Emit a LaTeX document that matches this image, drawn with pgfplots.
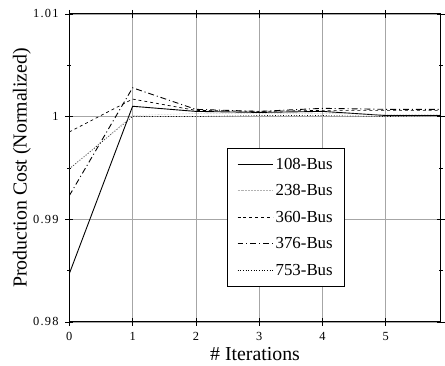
\documentclass[border=0pt]{standalone}
\usepackage{fontspec}
\setmainfont{Liberation Serif}
\newfontfamily\tickfont[LetterSpace=10]{Liberation Serif}
\newcommand\TL[1]{\hbox{\tickfont #1}}
\usepackage{pgfplots}
\pgfplotsset{compat=1.18}
\begin{document}
\begin{tikzpicture}
\begin{axis}[
  scale only axis,
  width=375pt, height=311pt,
  xmin=0, xmax=5.87, ymin=0.98, ymax=1.01,
  xtick={0,1,2,3,4,5},
  xticklabels={\TL{0},\TL{1},\TL{2},\TL{3},\TL{4},\TL{5}},
  ytick={0.98,0.99,1,1.01},
  yticklabels={\TL{0.98},\TL{0.99},\TL{1},\TL{1.01}},
  minor y tick num=1,
  /pgf/number format/assume math mode=true,
  xticklabel style={scale=1.25, yshift=-2pt},
  yticklabel style={scale=1.25, xshift=-2pt},
  xlabel={\# Iterations},
  ylabel={Production Cost (Normalized)},
  label style={font=\fontsize{20}{24}\selectfont},
  xlabel style={at={(axis description cs:0.5,-0.105)}, anchor=center},
  ylabel style={at={(axis description cs:-0.128,0.5)}, anchor=center},
  grid=major,
  major grid style={gray!70, line width=0.6pt},
  tick align=center,
  major tick length=8pt,
  minor tick length=4pt,
  tick style={black, line width=0.6pt},
  axis line style={line width=0.8pt},
  clip mode=individual,
  legend style={at={(0.424,0.566)}, anchor=north west, font=\fontsize{17}{20}\selectfont,
    row sep=10pt, inner xsep=10pt, inner ysep=8pt, draw=black, line width=0.8pt},
  legend cell align=left,
  legend image code/.code={\draw[#1] (0pt,0pt) -- (36pt,0pt);},
]
\addplot[black, line width=0.9pt] coordinates {(0,0.9847) (1,1.0010) (2,1.0005) (3,1.0004) (4,1.0005) (5,1.0001) (5.87,1.0001)};
\addlegendentry{108-Bus}
\addplot[gray!60, line width=0.5pt, densely dotted] coordinates {(0,0.9949) (1,1.0001) (2,1.0003) (3,1.0003) (4,1.0003) (5,1.0002) (5.87,1.0002)};
\addlegendentry{238-Bus}
\addplot[black, line width=0.7pt, dashed] coordinates {(0,0.9985) (1,1.0017) (2,1.0006) (3,1.0005) (4,1.0006) (5,1.0006) (5.87,1.0006)};
\addlegendentry{360-Bus}
\addplot[black, line width=0.9pt, dash pattern=on 6pt off 3pt on 1pt off 3pt] coordinates {(0,0.9923) (1,1.0028) (2,1.0007) (3,1.0005) (4,1.0008) (5,1.0007) (5.87,1.0007)};
\addlegendentry{376-Bus}
\addplot[black, line width=0.7pt, dotted] coordinates {(0,0.9949) (1,1.0000) (2,1.0000) (3,1.0001) (4,1.0001) (5,1.0000) (5.87,1.0001)};
\addlegendentry{753-Bus}
\path (rel axis cs:0,1) ++(-70pt,14pt) coordinate (tl);
\path (rel axis cs:1,0) ++(0pt,-44pt) coordinate (br);
\end{axis}
\path (tl) (br);
\end{tikzpicture}
\end{document}
